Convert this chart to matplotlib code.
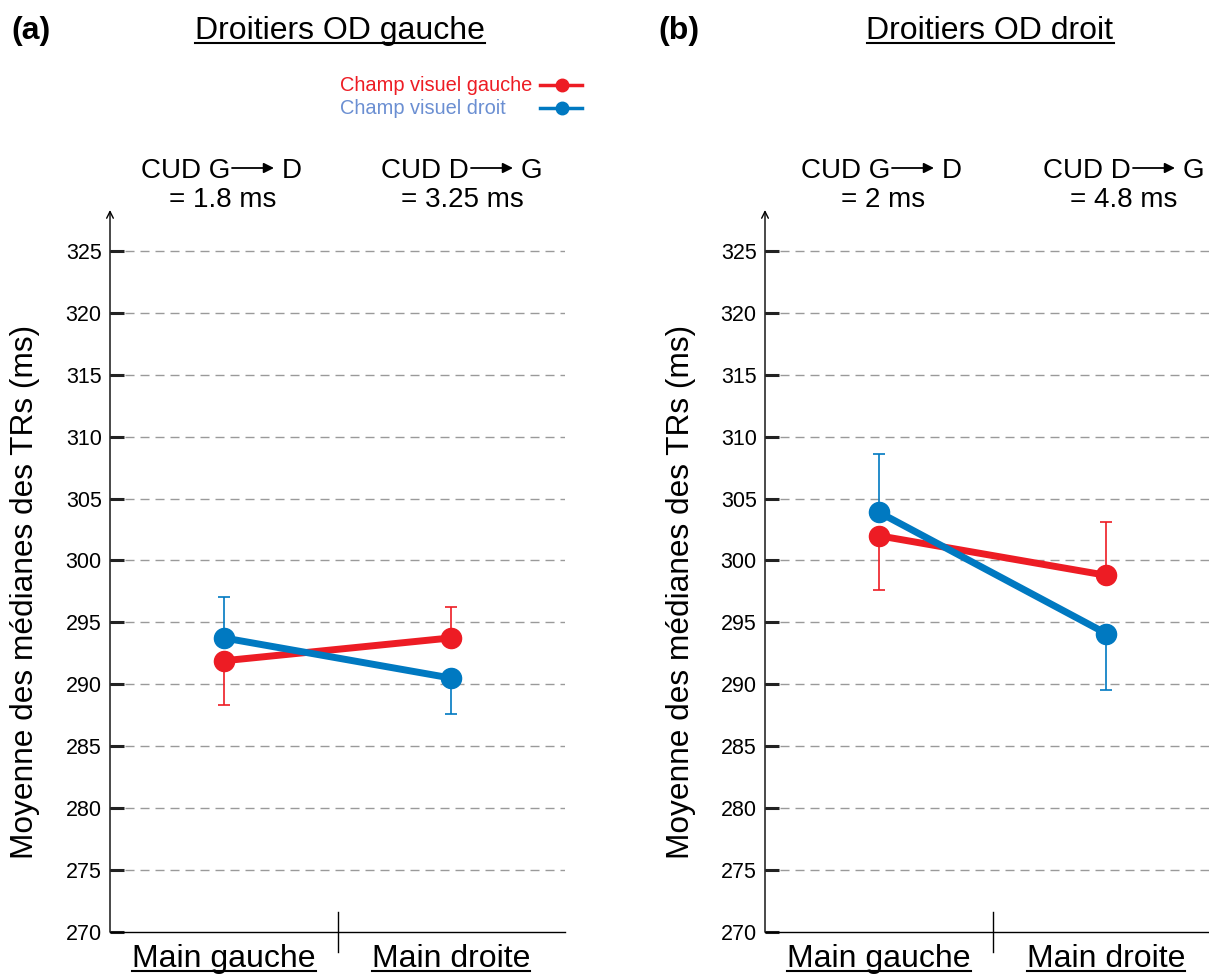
import matplotlib
matplotlib.use('Agg')
import matplotlib.pyplot as plt
from matplotlib.lines import Line2D
from matplotlib.transforms import blended_transform_factory, IdentityTransform

plt.rcParams['font.family'] = ['Liberation Sans', 'DejaVu Sans']

# ---- data ----
categories = ['Main gauche', 'Main droite']
panel_titles = ['Droitiers OD gauche', 'Droitiers OD droit']
panel_tags = ['(a)', '(b)']
series_names = ['Champ visuel gauche', 'Champ visuel droit']
yticks = [270, 275, 280, 285, 290, 295, 300, 305, 310, 315, 320, 325]

# panel (a)
a_gauche = [291.9, 293.75]
a_gauche_lo = [3.6, 0]
a_gauche_hi = [0, 2.5]
a_droit = [293.75, 290.5]
a_droit_lo = [0, 2.9]
a_droit_hi = [3.3, 0]
cud_a = [('CUD G', 'D', '= 1.8 ms'), ('CUD D', 'G', '= 3.25 ms')]

# panel (b)
b_gauche = [302.0, 298.8]
b_gauche_lo = [4.4, 0]
b_gauche_hi = [0, 4.3]
b_droit = [303.9, 294.1]
b_droit_lo = [0, 4.55]
b_droit_hi = [4.7, 0]
cud_b = [('CUD G', 'D', '= 2 ms'), ('CUD D', 'G', '= 4.8 ms')]

RED = '#ed1c24'
BLUE = '#0079c1'
LIGHTBLUE = '#6b8fd2'

W, H = 1209, 974
fig = plt.figure(figsize=(W / 100, H / 100), dpi=100)

underlined = []


def ftext(x, y, s, **kw):
    # x, y given in pixels from the top-left corner
    return fig.text(x / W, 1 - y / H, s, **kw)


def draw_panel(ax, gauche, g_lo, g_hi, droit, d_lo, d_hi):
    x = list(range(len(categories)))
    ax.set_xlim(-0.5, 1.5)
    ax.set_ylim(270, 328.3)
    for t in yticks[1:]:
        ax.axhline(t, color='#9a9a9a', lw=1, linestyle=(0, (6.5, 4.3)), zorder=1)
    ax.errorbar(x, gauche, yerr=[g_lo, g_hi], fmt='none', ecolor=RED, elinewidth=1.2,
                capsize=4.5, capthick=1.2, zorder=2)
    ax.errorbar(x, droit, yerr=[d_lo, d_hi], fmt='none', ecolor=BLUE, elinewidth=1.2,
                capsize=4.5, capthick=1.2, zorder=2)
    ax.plot(x, gauche, color=RED, lw=5, marker='o', markersize=14.5, zorder=3)
    ax.plot(x, droit, color=BLUE, lw=5, marker='o', markersize=14.5, zorder=4)

    for s in ['top', 'right', 'left']:
        ax.spines[s].set_visible(False)
    ax.spines['bottom'].set_linewidth(1)
    ax.set_xticks([])
    ax.set_yticks(yticks)
    ax.tick_params(axis='y', direction='in', length=10, width=2.2, pad=6,
                   labelsize=15.5, color='#222222')
    # y axis with open arrow head
    ax.annotate('', xy=(0, 1), xytext=(0, 0), xycoords='axes fraction',
                arrowprops=dict(arrowstyle='->', lw=1, color='k', shrinkA=0, shrinkB=0,
                                mutation_scale=12))
    # divider between the two hands
    ax.plot([0.5, 0.5], [-0.028, 0.028], transform=ax.transAxes, color='k', lw=1,
            clip_on=False)
    tr = blended_transform_factory(ax.transData, ax.transAxes)
    for i, c in enumerate(categories):
        t = ax.text(i, -0.0485, c, transform=tr, ha='center', va='baseline', fontsize=23)
        underlined.append((t, 4, 1.5))


ax1 = fig.add_axes([110 / W, 42 / H, 455 / W, 722 / H])
ax2 = fig.add_axes([765 / W, 42 / H, 455 / W, 722 / H])
draw_panel(ax1, a_gauche, a_gauche_lo, a_gauche_hi, a_droit, a_droit_lo, a_droit_hi)
draw_panel(ax2, b_gauche, b_gauche_lo, b_gauche_hi, b_droit, b_droit_lo, b_droit_hi)

# y labels
for xc in [25, 681]:
    ftext(xc, 592, 'Moyenne des médianes des TRs (ms)', rotation=90, ha='center',
          va='center', fontsize=22.8)

# titles and tags
for xc, title in zip([340, 990], panel_titles):
    t = ftext(xc, 39, title, ha='center', va='baseline', fontsize=23)
    underlined.append((t, 4, 1.5))
for xl, tag in zip([11, 658], panel_tags):
    ftext(xl, 39, tag, ha='left', va='baseline', fontsize=23, fontweight='bold')

# CUD annotations
for starts, cuds in [([143, 382], cud_a), ([803, 1044], cud_b)]:
    for s0, (left, right, val) in zip(starts, cuds):
        ftext(s0 + 87, 178, left, ha='right', va='baseline', fontsize=20)
        ax1.annotate('', xy=((s0 + 131) / W, 1 - 168 / H), xytext=((s0 + 89) / W, 1 - 168 / H),
                     xycoords='figure fraction',
                     arrowprops=dict(arrowstyle='-|>', lw=1.3, color='k', shrinkA=0,
                                     shrinkB=0, mutation_scale=15))
        ftext(s0 + 139, 178, right, ha='left', va='baseline', fontsize=20)
        ftext(s0 + 80, 207, val, ha='center', va='baseline', fontsize=20)

# legend
ftext(340, 91, series_names[0], ha='left', va='baseline', fontsize=14.4, color=RED)
ftext(340, 114, series_names[1], ha='left', va='baseline', fontsize=14.4, color=LIGHTBLUE)
for yy, col in [(85, RED), (108, BLUE)]:
    fig.add_artist(Line2D([540 / W, 582 / W], [1 - yy / H, 1 - yy / H], color=col, lw=2.5,
                          transform=fig.transFigure))
    fig.add_artist(Line2D([562 / W], [1 - yy / H], color=col, marker='o', markersize=9,
                          transform=fig.transFigure))

# underline the texts that need it
fig.canvas.draw()
renderer = fig.canvas.get_renderer()
for t, off, lw in underlined:
    bb = t.get_window_extent(renderer)
    yb = t.get_transform().transform(t.get_position())[1] - off
    fig.add_artist(Line2D([bb.x0, bb.x1], [yb, yb], color='k', lw=lw,
                          transform=IdentityTransform()))

fig.savefig('out.png', dpi=100)
